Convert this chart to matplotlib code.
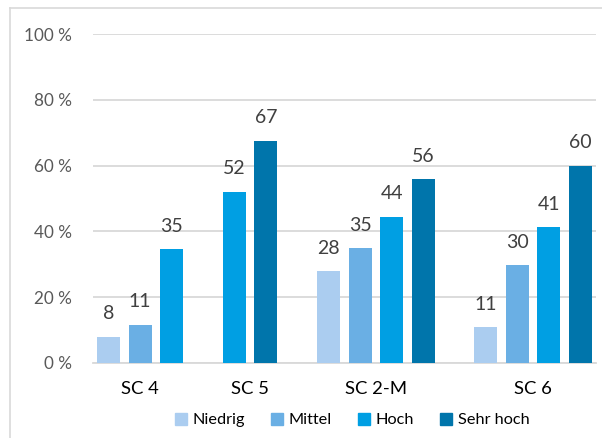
import numpy as np
import matplotlib
matplotlib.use('Agg')
import matplotlib.pyplot as plt
from matplotlib.patches import Patch
from matplotlib.lines import Line2D

plt.rcParams['font.family'] = ['Lato', 'DejaVu Sans']

categories = ['SC 4', 'SC 5', 'SC 2-M', 'SC 6']
series = ['Niedrig', 'Mittel', 'Hoch', 'Sehr hoch']
colors = ['#abcdf0', '#6aafe4', '#009fe3', '#0075ab']
# bar heights, nan = no bar
values = {
    'Niedrig':   [7.9, np.nan, 27.9, 10.8],
    'Mittel':    [11.5, np.nan, 34.9, 29.7],
    'Hoch':      [34.6, 52.0, 44.4, 41.3],
    'Sehr hoch': [np.nan, 67.5, 55.9, 59.9],
}
labels = {
    'Niedrig':   ['8', '', '28', '11'],
    'Mittel':    ['11', '', '35', '30'],
    'Hoch':      ['35', '52', '44', '41'],
    'Sehr hoch': ['', '67', '56', '60'],
}
yticks = [0, 20, 40, 60, 80, 100]
ytick_labels = ['0 %', '20 %', '40 %', '60 %', '80 %', '100 %']

fig = plt.figure(figsize=(6.02, 4.38), dpi=100)
ax = fig.add_axes([93 / 602, 1 - 362.7 / 438, 503 / 602, 328.5 / 438])

# bars of a group sit side by side, empty slot between groups
pos = 0
tick_pos = []
for ci, cat in enumerate(categories):
    xs = []
    for si, s in enumerate(series):
        v = values[s][ci]
        if np.isnan(v):
            continue
        ax.bar(pos, v, width=0.73, color=colors[si], zorder=3)
        ax.annotate(labels[s][ci], (pos, v), xytext=(0, 12.6), textcoords='offset points',
                    ha='center', va='baseline', fontsize=14, color='#404040')
        xs.append(pos)
        pos += 1
    tick_pos.append(np.mean(xs))
    pos += 1

ax.set_xlim(-0.5, pos - 1.5)
ax.set_ylim(0, 100)
ax.set_yticks(yticks)
ax.set_yticklabels(ytick_labels)
ax.set_xticks(tick_pos)
ax.set_xticklabels(categories)
ax.grid(axis='y', color='#d9d9d9', lw=1.3, zorder=0)
for sp in ['top', 'right', 'left']:
    ax.spines[sp].set_visible(False)
ax.spines['bottom'].set_color('#d9d9d9')
ax.spines['bottom'].set_linewidth(1.3)
ax.tick_params(axis='y', length=0, pad=15, labelsize=12.3, labelcolor='#595959')
ax.tick_params(axis='x', length=0, pad=13, labelsize=13.3, labelcolor='#000000')

handles = [Patch(color=c, label=s) for c, s in zip(colors, series)]
fig.legend(handles=handles, loc='center', bbox_to_anchor=(352 / 602, 1 - 420 / 438), ncol=4,
           frameon=False, fontsize=11.7, handlelength=0.74, handleheight=0.74,
           handletextpad=0.35, columnspacing=1.6)

# chart frame
fig.add_artist(Line2D([10 / 602, 10 / 602], [0, 1 - 8.3 / 438], color='#d9d9d9', lw=1.2))
fig.add_artist(Line2D([10 / 602, 1], [1 - 8.3 / 438, 1 - 8.3 / 438], color='#d9d9d9', lw=1.2))

fig.savefig('out.png', dpi=100)
